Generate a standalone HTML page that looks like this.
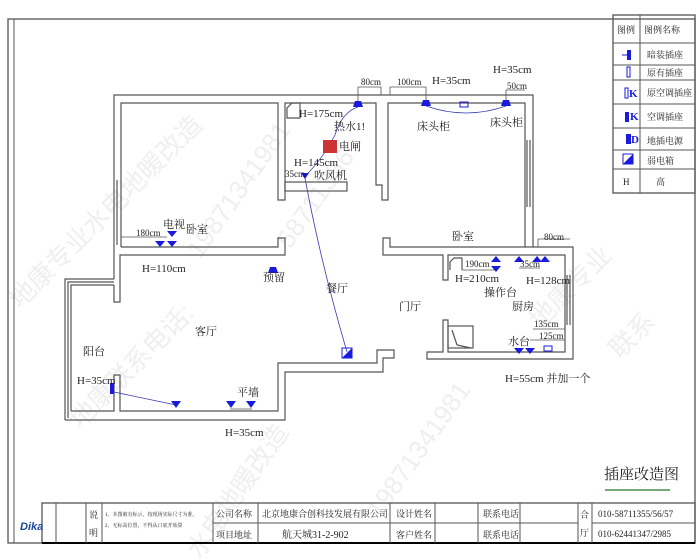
<!DOCTYPE html>
<html><head><meta charset="utf-8"><style>
body{margin:0;background:#fff;}
svg{display:block;font-family:"Liberation Serif","Noto Serif CJK SC",serif;}
.w{fill:none;stroke:#555;stroke-width:1.2}
.t{font-size:11px;fill:#222}
.s{font-size:9px;fill:#222}
.wm{font-size:26px;fill:#efefef;font-family:"Liberation Sans","Noto Sans CJK SC",sans-serif}
</style></head><body>
<svg width="700" height="560" viewBox="0 0 700 560" xmlns="http://www.w3.org/2000/svg">
<g class="wm">
<text transform="translate(20,310) rotate(-45)">地康专业水电地暖改造</text>
<text transform="translate(200,260) rotate(-55)">19871341981</text>
<text transform="translate(290,250) rotate(-55)">58711356</text>
<text transform="translate(80,430) rotate(-45)">地康联系电话:</text>
<text transform="translate(540,330) rotate(-45)">地康专业</text>
<text transform="translate(620,360) rotate(-45)">联系</text>
<text transform="translate(200,560) rotate(-55)">水电地暖改造</text>
<text transform="translate(380,520) rotate(-55)">19871341981</text>
</g>
<rect x="8" y="19" width="687" height="524" fill="none" stroke="#555" stroke-width="1.3"/>
<line x1="14" y1="19" x2="14" y2="543" stroke="#555"/>
<!-- legend -->
<g stroke="#555" fill="none">
<rect x="613" y="15" width="82" height="178" stroke-width="1.3"/>
<line x1="640" y1="15" x2="640" y2="193"/>
<line x1="613" y1="43" x2="695" y2="43"/><line x1="613" y1="65" x2="695" y2="65"/>
<line x1="613" y1="80" x2="695" y2="80"/><line x1="613" y1="104" x2="695" y2="104"/>
<line x1="613" y1="128" x2="695" y2="128"/><line x1="613" y1="150" x2="695" y2="150"/>
<line x1="613" y1="169" x2="695" y2="169"/>
</g>
<g class="s">
<text x="617" y="33">图例</text><text x="644" y="33">图例名称</text>
<text x="647" y="58">暗装插座</text><text x="647" y="76">原有插座</text>
<text x="647" y="96">原空调插座</text><text x="647" y="120">空调插座</text>
<text x="647" y="144">地插电源</text><text x="647" y="164">弱电箱</text>
<text x="623" y="185">H</text><text x="656" y="185">高</text>
</g>
<g fill="#1a1adc">
<rect x="627" y="50" width="4" height="10"/><line x1="622" y1="55" x2="627" y2="55" stroke="#1a1adc"/>
<rect x="627" y="67" width="3" height="10" fill="none" stroke="#1a1adc"/>
<text x="629" y="97" font-size="11" font-weight="bold">K</text><rect x="625" y="88" width="3" height="10" fill="none" stroke="#1a1adc"/>
<text x="630" y="120" font-size="11" font-weight="bold">K</text><rect x="625" y="112" width="4" height="10"/>
<text x="631" y="143" font-size="11" font-weight="bold">D</text><rect x="626" y="134" width="5" height="10"/>
<polygon points="623,164 633,154 633,164"/><rect x="623" y="154" width="10" height="10" fill="none" stroke="#1a1adc"/>
</g>
<!-- walls -->
<g class="w">
<polyline points="114,279 114,95 533,95 533,247"/>
<polyline points="121,247 121,103 278,103 278,200 285,200 285,103 376,103 376,185 382,185 382,200 388,200 388,103 525,103 525,247"/>
<polyline points="121,247 278,247 278,238 285,238 285,255 120,255 120,302 114,302 114,285"/>
<rect x="285" y="182" width="62" height="9"/>
<polygon points="383,255 383,238 390,238 390,247 573,247 573,359 427,359 427,352 443,352 443,320 448,320 448,352 565,352 565,255 448,255 448,280 443,280 443,255"/>
<polyline points="65,420 65,279 114,279"/>
<polyline points="68,418 68,282 114,282"/>
<polyline points="71,411 71,285 114,285"/>
<polyline points="65,420 285,420 285,372 383,372 383,358 394,358 394,350 377,350 377,363 278,363 278,411 120,411 120,375 114,375 114,411 71,411"/>
<line x1="117" y1="180" x2="117" y2="245"/>
<line x1="527" y1="140" x2="527" y2="207"/><line x1="530" y1="140" x2="530" y2="207"/>
<line x1="567" y1="275" x2="567" y2="325"/><line x1="570" y1="275" x2="570" y2="325"/>
<rect x="448" y="326" width="25" height="22"/>
<line x1="452" y1="330" x2="457" y2="345"/><line x1="457" y1="345" x2="471" y2="348"/>
<path d="M287,118 L287,108 L292,103 L300,103 L300,118 Z"/>
<path d="M450,270 L450,262 L454,258 L462,258 L462,270"/>
</g>
<!-- dims -->
<g stroke="#555" fill="none" stroke-width="0.8">
<polyline points="358,103 358,87 381,87 381,95"/>
<polyline points="390,95 390,87 426,87 426,103"/>
<polyline points="506,103 506,90 525,90"/>
<line x1="121" y1="237" x2="167" y2="237"/>
<polyline points="538,247 538,239 570,239"/>
<line x1="462" y1="270" x2="496" y2="270"/><line x1="519" y1="268" x2="540" y2="268"/>
<line x1="533" y1="329" x2="565" y2="329"/><line x1="530" y1="340" x2="565" y2="340"/>
<line x1="230" y1="409" x2="252" y2="409"/>
</g>
<!-- wires -->
<g stroke="#3a3ab0" fill="none" stroke-width="0.8">
<path d="M358,107 Q342,112 335,135 Q322,160 305,176"/>
<path d="M305,178 Q320,260 347,352"/>
<path d="M426,106 Q466,120 506,106"/>
<line x1="114" y1="392" x2="176" y2="405"/>
</g>
<!-- sockets -->
<g fill="#1a1adc">
<polygon points="353,107 363,107 361,101 355,101"/>
<polygon points="421,106 431,106 429,100 423,100"/>
<polygon points="501,106 511,106 509,100 503,100"/>
<polygon points="301,173 309,173 305,179"/>
<polygon points="155,241 165,241 160,247"/><polygon points="167,241 177,241 172,247"/>
<polygon points="167,231 177,231 172,237"/>
<polygon points="268,273 278,273 276,267 270,267"/>
<polygon points="491,262 501,262 496,256"/><polygon points="491,266 501,266 496,272"/>
<polygon points="514,262 524,262 519,256"/><polygon points="532,262 542,262 537,256"/><polygon points="540,262 550,262 545,256"/>
<polygon points="514,348 524,348 519,354"/><polygon points="525,348 535,348 530,354"/>
<polygon points="171,401 181,401 176,408"/><polygon points="226,401 236,401 231,408"/><polygon points="246,401 256,401 251,408"/>
<rect x="110" y="383" width="4" height="11"/>
<polygon points="342,358 352,348 352,358"/>
</g>
<rect x="342" y="348" width="10" height="10" fill="none" stroke="#1a1adc"/>
<rect x="460" y="102" width="8" height="5" fill="none" stroke="#1a1adc"/>
<rect x="544" y="346" width="8" height="5" fill="none" stroke="#1a1adc"/>
<rect x="323" y="140" width="14" height="13" fill="#c33"/>
<!-- labels -->
<g class="t">
<text x="186" y="233">卧室</text><text x="452" y="240">卧室</text>
<text x="299" y="117">H=175cm</text><text x="334" y="130">热水1!</text>
<text x="339" y="150">电闸</text><text x="294" y="166">H=145cm</text>
<text x="314" y="179">吹风机</text>
<text x="432" y="84">H=35cm</text><text x="493" y="73">H=35cm</text>
<text x="417" y="130">床头柜</text><text x="490" y="126">床头柜</text>
<text x="163" y="228">电视</text><text x="142" y="272">H=110cm</text>
<text x="263" y="281">预留</text><text x="326" y="292">餐厅</text>
<text x="399" y="310">门厅</text><text x="195" y="335">客厅</text>
<text x="83" y="355">阳台</text><text x="77" y="384">H=35cm</text>
<text x="237" y="396">平墙</text><text x="225" y="436">H=35cm</text>
<text x="455" y="282">H=210cm</text><text x="526" y="284">H=128cm</text>
<text x="484" y="296">操作台</text><text x="512" y="310">厨房</text>
<text x="508" y="345">水台</text><text x="505" y="382">H=55cm 并加一个</text>
</g>
<g class="s">
<text x="361" y="85">80cm</text><text x="397" y="85">100cm</text><text x="507" y="89">50cm</text>
<text x="285" y="177">35cm</text><text x="136" y="236">180cm</text>
<text x="544" y="240">80cm</text><text x="465" y="267">190cm</text><text x="520" y="267">35cm</text>
<text x="534" y="327">135cm</text><text x="539" y="339">125cm</text>
</g>
<text x="604" y="479" font-size="15" fill="#222">插座改造图</text>
<line x1="605" y1="490" x2="670" y2="490" stroke="#7a7" stroke-width="2"/>
<!-- title block -->
<g stroke="#555" fill="none">
<rect x="42" y="503" width="653" height="40" stroke-width="1.3"/>
<line x1="42" y1="543" x2="695" y2="543" stroke="#000" stroke-width="2"/>
<line x1="56" y1="503" x2="56" y2="543"/><line x1="86" y1="503" x2="86" y2="543"/>
<line x1="102" y1="503" x2="102" y2="543"/><line x1="213" y1="503" x2="213" y2="543"/>
<line x1="258" y1="503" x2="258" y2="543"/><line x1="390" y1="503" x2="390" y2="543"/>
<line x1="435" y1="503" x2="435" y2="543"/><line x1="478" y1="503" x2="478" y2="543"/>
<line x1="520" y1="503" x2="520" y2="543"/><line x1="578" y1="503" x2="578" y2="543"/>
<line x1="592" y1="503" x2="592" y2="543"/>
<line x1="213" y1="523" x2="578" y2="523"/><line x1="592" y1="523" x2="695" y2="523"/>
</g>
<text x="20" y="530" font-size="11" font-weight="bold" fill="#1a4a9a" font-style="italic" font-family="Liberation Sans, sans-serif">Dika</text>
<g class="s">
<text x="89" y="518">说</text><text x="89" y="536">明</text>
<text x="105" y="516" font-size="5">1、本图被有标示，按现场实际尺寸为准。</text>
<text x="105" y="527" font-size="5">2、无标高位置，不得从口底开始算</text>
<text x="216" y="517">公司名称</text><text x="216" y="538">项目地址</text>
<text x="262" y="517">北京地康合创科技发展有限公司</text>
<text x="282" y="538" font-size="10">航天城31-2-902</text>
<text x="396" y="517">设计姓名</text><text x="396" y="538">客户姓名</text>
<text x="483" y="517">联系电话</text><text x="483" y="538">联系电话</text>
<text x="580" y="518">合</text><text x="580" y="536">厅</text>
<text x="598" y="517">010-58711355/56/57</text><text x="598" y="537">010-62441347/2985</text>
</g>
</svg>
</body></html>
